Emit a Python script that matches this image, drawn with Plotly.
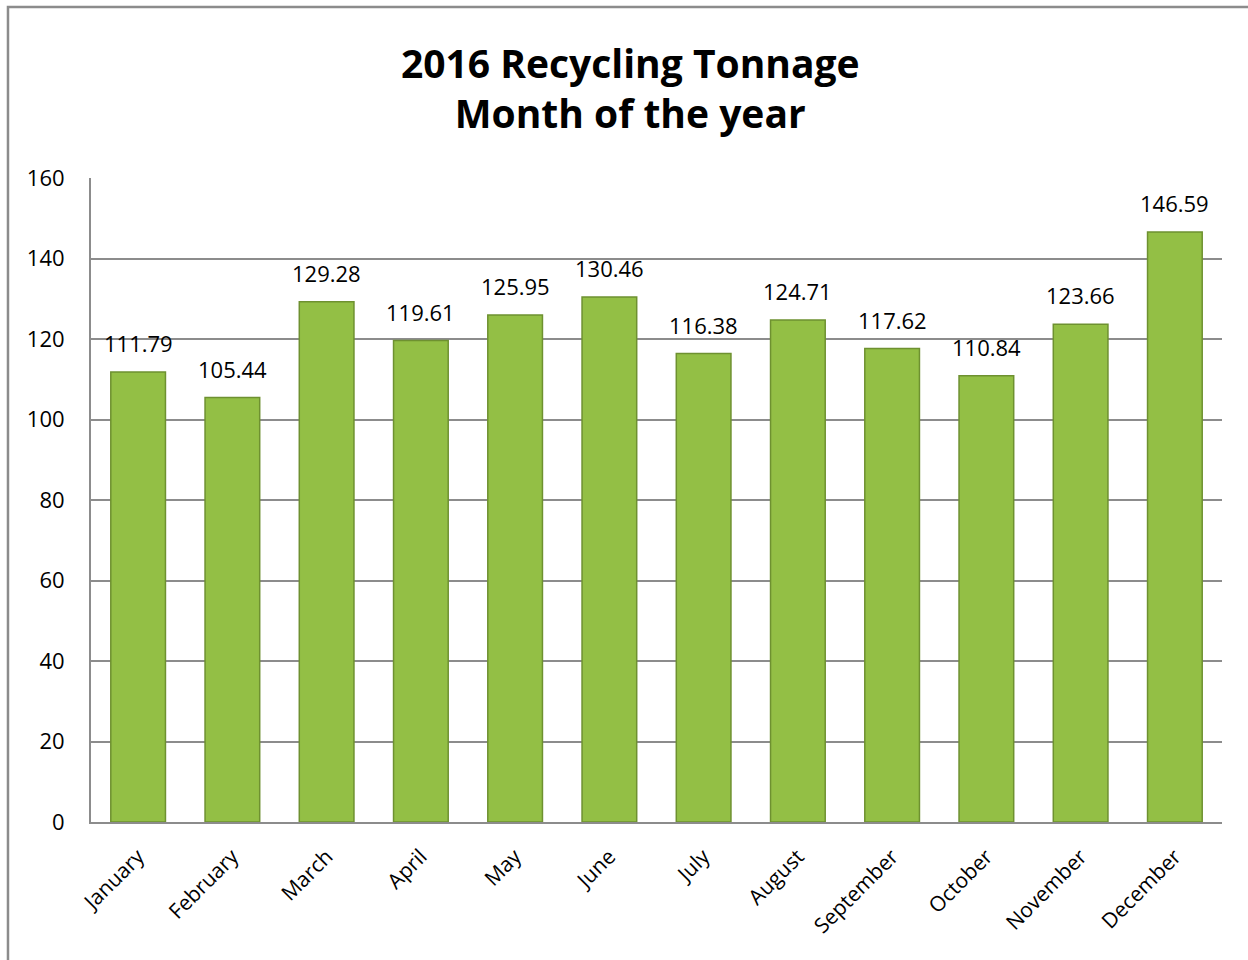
import plotly.graph_objects as go

months = ["January", "February", "March", "April", "May", "June", "July",
          "August", "September", "October", "November", "December"]
tonnage = [111.79, 105.44, 129.28, 119.61, 125.95, 130.46, 116.38,
           124.71, 117.62, 110.84, 123.66, 146.59]
title_lines = ["2016 Recycling Tonnage", "Month of the year"]

FONT = "'Open Sans', sans-serif"

fig = go.Figure(go.Bar(
    x=months, y=tonnage,
    width=0.58,
    marker=dict(color="#93bf45", line=dict(color="#6e9130", width=1.5)),
    hoverinfo="x+y",
))

for m, v in zip(months, tonnage):
    fig.add_annotation(x=m, y=v, text=f"{v:.2f}", showarrow=False,
                       xanchor="center", yanchor="bottom", yshift=12,
                       font=dict(size=22, family=FONT, color="#000000"))

fig.update_layout(
    width=1248, height=960,
    paper_bgcolor="white", plot_bgcolor="white",
    margin=dict(l=91, r=26, t=178, b=138),
    title=dict(text="<b>" + "<br>".join(title_lines) + "</b>",
               x=0.505, xanchor="center", y=0.919, yanchor="middle",
               yref="container",
               font=dict(size=39, family=FONT, color="#000000")),
    font=dict(family=FONT, size=22, color="#000000"),
    showlegend=False,
    bargap=0.42,
    shapes=[dict(type="rect", xref="paper", yref="paper",
                 x0=-0.0734, x1=1.03, y0=-0.23, y1=1.2655,
                 line=dict(color="#8c8c8c", width=2.5), layer="below")],
)
fig.update_xaxes(showline=True, linecolor="#8c8c8c", linewidth=2,
                 tickangle=-45, tickfont=dict(size=21), ticks="outside",
                 ticklen=12, tickcolor="white", showgrid=False)
fig.update_yaxes(range=[0, 160], dtick=20, showline=True, linecolor="#8c8c8c",
                 linewidth=2, showgrid=True, gridcolor="#8c8c8c", gridwidth=2,
                 tickfont=dict(size=22), ticks="outside", ticklen=20,
                 tickcolor="white", zeroline=False)

fig.write_html("out.html")
